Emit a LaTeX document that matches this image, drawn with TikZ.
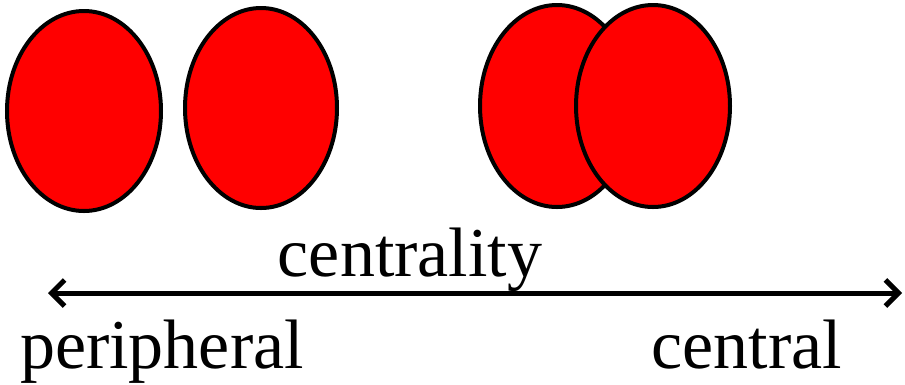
\documentclass[tikz,border=0pt]{standalone}
\usepackage{fontspec}
\setmainfont{Liberation Serif}
\usetikzlibrary{arrows.meta}
\begin{document}
\begin{tikzpicture}[x=1pt, y=-1pt, >={Straight Barb[length=13pt,width=26pt,line width=5pt]}]
        \tikzset{cell/.style={fill=red, draw=black, line width=4pt},
                 lbl/.style={anchor=base, font=\fontsize{70}{70}\selectfont}}
        \useasboundingbox (0,0) rectangle (905,384);

        % Cellule separate (periferia)
        \draw[cell] (84,111) ellipse [x radius=77, y radius=100];
        \draw[cell] (261,108) ellipse [x radius=76, y radius=100];

        % Cellule sovrapposte (centro)
        \draw[cell] (557,106) ellipse [x radius=77, y radius=101];
        \draw[cell] (653,106) ellipse [x radius=77, y radius=101];

        % Asse della centralita
        \coordinate (sx) at (48,293);
        \coordinate (dx) at (902,293);
        \draw[<->, line width=5pt] (sx) -- (dx);

        % Etichette
        \node[lbl] (cent) at (410,276) {centrality};
        \node[lbl] (peri) at (162,368) {peripheral};
        \node[lbl] (cen) at (747,368) {central};

    \end{tikzpicture}
\end{document}
